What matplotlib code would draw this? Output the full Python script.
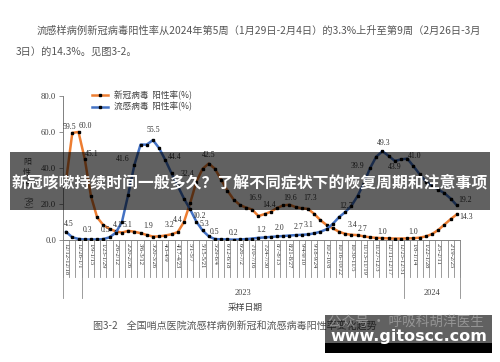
import matplotlib
matplotlib.use("Agg")
import matplotlib.pyplot as plt
import matplotlib.transforms as mtrans
from matplotlib.patches import Rectangle
from matplotlib.lines import Line2D
from matplotlib.font_manager import FontProperties

CJK = ["Noto Sans CJK SC", "DejaVu Sans"]
SERIF = ["Liberation Serif", "DejaVu Serif"]

# ---- data ----
week_labels = [
    "12/12-12/18", "12/26-1/1", "1/9-1/15", "1/23-1/29", "2/6-2/12", "2/20-2/26",
    "3/6-3/12", "3/20-3/26", "4/3-4/9", "4/17-4/23", "5/1-5/7", "5/15-5/21",
    "5/29-6/4", "6/12-6/18", "6/26-7/2", "7/10-7/16", "7/24-7/30", "8/7-8/13",
    "8/21-8/27", "9/4-9/10", "9/18-9/24", "10/2-10/8", "10/16-10/22", "10/30-11/5",
    "11/13-11/19", "11/27-12/3", "12/11-12/17", "12/25-12/31", "1/8-1/14",
    "1/22-1/28", "2/5-2/11", "2/19-2/25",
]
year_names = ["", "2023", "2024"]
year_weeks = [3, 52, 9]

covid = [
    33.0, 59.5, 60.0, 45.1, 24.5, 12.6, 8.3, 6.2, 4.8, 4.1,
    5.1, 4.6, 3.8, 2.8, 1.9, 2.0, 2.5, 3.2, 4.4, 10.0,
    20.5, 32.4, 39.5, 42.5, 39.5, 33.5, 27.5, 22.5, 19.5, 18.0,
    16.9, 13.3, 14.4, 15.7, 17.8, 19.2, 19.6, 18.3, 17.6, 17.3,
    14.5, 11.0, 8.3, 6.5, 4.6, 3.4, 2.9, 2.7, 2.0, 1.5,
    1.2, 1.0, 0.9, 0.8, 0.8, 0.9, 1.0, 1.3, 2.0, 3.3,
    5.6, 8.6, 11.6, 14.3,
]
flu = [
    4.5, 1.5, 0.6, 0.3, 0.3, 0.3, 0.5, 1.5, 4.0, 10.0,
    25.0, 41.6, 53.0, 53.0, 55.5, 51.0, 44.4, 37.0, 30.0, 23.0,
    17.0, 10.2, 5.3, 2.0, 0.5, 0.4, 0.3, 0.2, 0.3, 0.5,
    0.8, 1.2, 1.4, 1.7, 2.0, 2.2, 2.5, 2.7, 2.9, 3.1,
    3.7, 4.6, 6.0, 9.0, 12.7, 15.5, 19.0, 24.5, 31.5, 39.9,
    46.3, 49.3, 46.7, 43.9, 44.8, 45.2, 41.0, 36.5, 32.5, 30.0,
    28.0, 26.0, 23.0, 19.2,
]

# which points carry a value label, and where the label sits (px offset)
covid_lab = {1: (-3, 6), 2: (6.5, 6), 3: (7, 5), 9: (-4, 7.5), 10: (-1, 6),
             14: (-5, 11), 17: (-2.5, 9), 18: (0, 12), 21: (-9, 8), 23: (0, 8.5),
             30: (3, 12), 32: (5, 9), 36: (1, 7), 39: (2.5, 11), 45: (7, 9),
             47: (5, 6), 51: (0, 6), 56: (0, 6), 63: (9, -3)}
flu_lab = {0: (3, 8), 4: (-3, 9), 6: (2.5, 9), 11: (-12, 6), 14: (0, 10),
           16: (9, 3), 21: (2.5, 6), 22: (1.5, 6.5), 24: (0, 7), 27: (0, 7),
           31: (3, 8), 34: (2.5, 8), 37: (2.5, 8), 39: (0.5, 9), 44: (7.5, 11),
           49: (-13, 2), 51: (1.7, 8), 53: (0, -6), 56: (0.7, 10), 63: (8, 5)}

W, H = 500, 362


def fx(x):
    return x / W


def fy(y):
    return 1 - y / H


fig = plt.figure(figsize=(W / 100, H / 100), dpi=100)
fig.patch.set_facecolor("white")
ax = fig.add_axes([fx(63), fy(240), (460 - 63) / W, (240 - 96) / H])

x = range(len(covid))
orange, blue = "#ED7D31", "#4472C4"
ax.plot(x, covid, color=orange, lw=1.8, marker="s", ms=1.6, mfc="black", mec="black", zorder=3)
ax.plot(x, flu, color=blue, lw=1.8, marker="s", ms=1.6, mfc="black", mec="black", zorder=3)

for series, labs in ((covid, covid_lab), (flu, flu_lab)):
    for i, (dx, dy) in labs.items():
        ax.annotate(f"{series[i]:.1f}", (i, series[i]), xytext=(dx * 0.72, dy * 0.72),
                    textcoords="offset points", ha="center", va="center",
                    fontsize=5.6, family=SERIF, color="#333333", zorder=4)

ax.set_xlim(-0.5, len(covid) - 0.5)
ax.set_ylim(0, 80)
ax.set_yticks([0, 20, 40, 60, 80])
ax.set_yticklabels([f"{v:.1f}" for v in [0, 20, 40, 60, 80]], family=SERIF,
                   fontsize=6.2, color="#404040")
ax.tick_params(axis="y", length=3, width=0.6, color="#808080", pad=2)
ax.set_xticks(range(0, len(covid), 2))
ax.set_xticklabels(week_labels, rotation=-90, family=SERIF, fontsize=4.7,
                   color="#303030", va="top", ha="center")
ax.tick_params(axis="x", length=0, pad=2)
for s in ("top", "right"):
    ax.spines[s].set_visible(False)
for s in ("left", "bottom"):
    ax.spines[s].set_color("#808080")
    ax.spines[s].set_linewidth(0.7)

# table-like category axis
trans = mtrans.blended_transform_factory(ax.transData, ax.transAxes)
for k in range(len(covid) + 1):
    ax.plot([k - 0.5, k - 0.5], [0, -37 / 144], transform=trans, clip_on=False,
            color="#8c8c8c", lw=0.6)
edge = -0.5
bounds = [edge]
for n in year_weeks:
    edge += n
    bounds.append(edge)
for b in bounds:
    ax.plot([b, b], [0, -58 / 144], transform=trans, clip_on=False, color="#8c8c8c", lw=0.6)
for name, a, b in zip(year_names, bounds[:-1], bounds[1:]):
    ax.text((a + b) / 2, -53 / 144, name, transform=trans, ha="center", va="center",
            family=SERIF, fontsize=6, color="#404040")

# legend
handles = [Line2D([], [], color=c, lw=1.8, marker="s", ms=1.6, mfc="black", mec="black")
           for c in (orange, blue)]
fig.legend(handles, ["新冠病毒  阳性率(%)", "流感病毒  阳性率(%)"], loc="upper left",
           bbox_to_anchor=(fx(92), fy(91)), frameon=False,
           prop=FontProperties(family=CJK, size=6.2), handlelength=1.9,
           handletextpad=0.6, labelspacing=0.2, borderaxespad=0, borderpad=0,
           labelcolor="#404040")

# axis titles
fig.text(fx(27), fy(172), "阳\n性\n率", ha="center", va="center", family=CJK,
         fontsize=5.8, color="#404040", linespacing=1.15)
fig.text(fx(27), fy(203), "(%)", ha="center", va="center", family=CJK,
         fontsize=5.8, color="#404040", rotation=-90)
fig.text(fx(245), fy(307), "采样日期", ha="center", va="center", family=CJK,
         fontsize=6.3, color="#404040")

# surrounding document text
fig.text(fx(37), fy(31), "流感样病例新冠病毒阳性率从2024年第5周（1月29日-2月4日）的3.3%上升至第9周（2月26日-3月",
         ha="left", va="center", family=CJK, fontsize=7.35, color="#555555")
fig.text(fx(16), fy(52), "3日）的14.3%。见图3-2。", ha="left", va="center", family=CJK,
         fontsize=7.35, color="#555555")
fig.text(fx(93), fy(327), "图3-2    全国哨点医院流感样病例新冠和流感病毒阳性率变化趋势",
         ha="left", va="center", family=CJK, fontsize=7.2, color="#555555")

# overlay banner
fig.patches.append(Rectangle((fx(10), fy(210)), 480 / W, 58 / H, transform=fig.transFigure,
                             facecolor="black", edgecolor="none", alpha=0.62, zorder=10))
fig.text(fx(250), fy(182), "新冠咳嗽持续时间一般多久？了解不同症状下的恢复周期和注意事项",
         ha="center", va="center", family=CJK, fontsize=11.4, fontweight="bold",
         color="white", zorder=11)

# watermark
fig.patches.append(Rectangle((fx(325), fy(343)), 167 / W, 28 / H, transform=fig.transFigure,
                             facecolor="black", edgecolor="none", alpha=0.62, zorder=10))
fig.patches.append(Rectangle((fx(325), fy(353)), 167 / W, 10 / H, transform=fig.transFigure,
                             facecolor="black", edgecolor="none", zorder=10))
fig.text(fx(406), fy(322), "公众号 · 呼吸科胡洋医生", ha="center", va="center", family=CJK,
         fontsize=9.8, color="#9a9a9a", alpha=0.9, zorder=11)
fig.text(fx(409), fy(337), "www.gitoscc.com", ha="center", va="center",
         family=["DejaVu Sans"], fontsize=11.5, fontweight="bold", color="white", zorder=11)

fig.savefig("out.png", dpi=100)
